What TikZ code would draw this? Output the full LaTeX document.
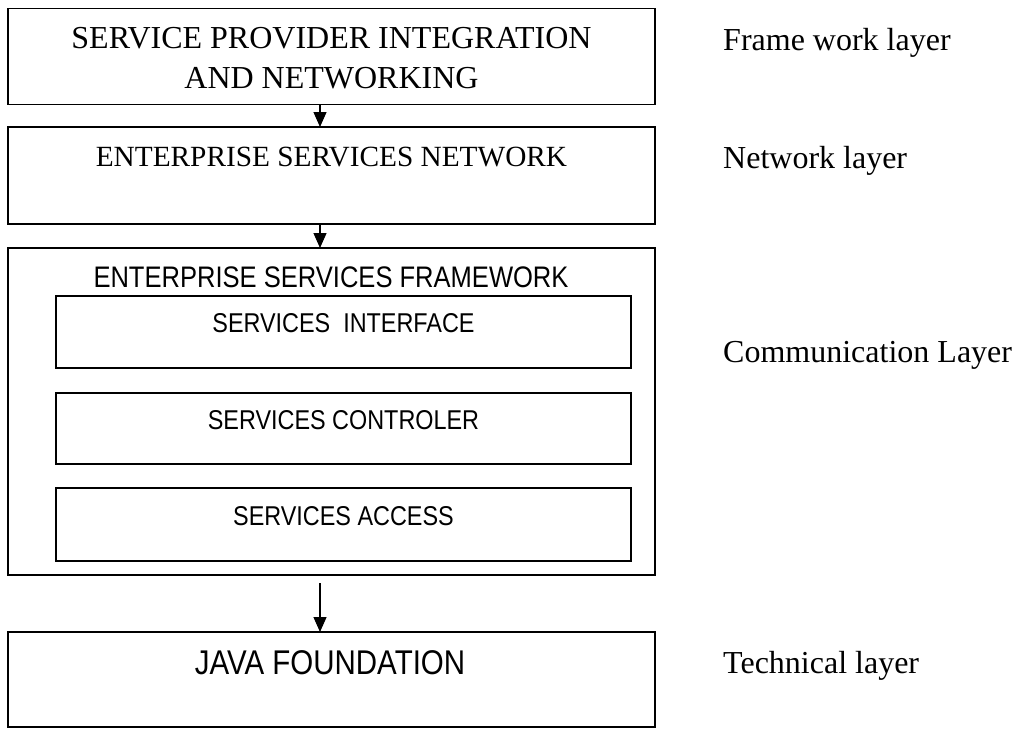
\documentclass[tikz,border=0pt]{standalone}
\usepackage{fontspec}
\setmainfont{Liberation Serif}
\newfontfamily\nsans[FakeStretch=0.86]{Liberation Sans}
\usetikzlibrary{arrows.meta}
\begin{document}
\begin{tikzpicture}[x=1pt,y=-1pt,
  box/.style={draw,line width=1.3pt,inner sep=0pt,outer sep=0pt},
  arr/.style={line width=1.2pt,-{Triangle[length=15pt,width=13pt]}},
  txt/.style={inner sep=0pt,align=center},
  lbl/.style={anchor=base west,inner sep=0pt,font=\fontsize{32}{38}\selectfont}]
\useasboundingbox (0,0) rectangle (1016,729);
% outer boxes
\node[box,minimum width=647pt,minimum height=96pt] (b1) at (331.5,56.5) {};
\node[box,minimum width=647pt,minimum height=97pt] (b2) at (331.5,175.5) {};
\node[box,minimum width=647pt,minimum height=327pt] (b3) at (331.5,411.5) {};
\node[box,minimum width=647pt,minimum height=95pt] (b4) at (331.5,679.5) {};
% inner boxes
\node[box,minimum width=575pt,minimum height=72pt] (i1) at (343.5,332) {};
\node[box,minimum width=575pt,minimum height=71pt] (i2) at (343.5,428.5) {};
\node[box,minimum width=575pt,minimum height=73pt] (i3) at (343.5,524.5) {};
% texts
\node[txt,font=\fontsize{32}{40}\selectfont] (t1) at (331.5,58) {SERVICE PROVIDER INTEGRATION\\AND NETWORKING};
\node[txt,font=\fontsize{29.3}{34}\selectfont] (t2) at (331.5,157) {ENTERPRISE SERVICES NETWORK};
\node[txt,font=\nsans\fontsize{29.7}{34}\selectfont] (t3) at (331,277) {ENTERPRISE SERVICES FRAMEWORK};
\node[txt,font=\nsans\fontsize{27.2}{32}\selectfont] (ti1) at (343.5,323) {SERVICES\ \ INTERFACE};
\node[txt,font=\nsans\fontsize{27.2}{32}\selectfont] (ti2) at (343.5,420) {SERVICES CONTROLER};
\node[txt,font=\nsans\fontsize{27.2}{32}\selectfont] (ti3) at (343.5,516) {SERVICES ACCESS};
\node[txt,font=\nsans\fontsize{34.3}{40}\selectfont] (t4) at (330,663) {JAVA FOUNDATION};
% layer labels
\node[lbl] (l1) at (723,50) {Frame work layer};
\node[lbl] (l2) at (723,168) {Network layer};
\node[lbl] (l3) at (723,362) {Communication Layer};
\node[lbl] (l4) at (723,673) {Technical layer};
% arrows
\coordinate (ax) at (320,0);
\draw[arr] (b1.south -| ax) -- (b2.north -| ax);
\draw[arr] (b2.south -| ax) -- (b3.north -| ax);
\draw[arr] ([yshift=-8pt]b3.south -| ax) -- (b4.north -| ax);
\end{tikzpicture}
\end{document}
